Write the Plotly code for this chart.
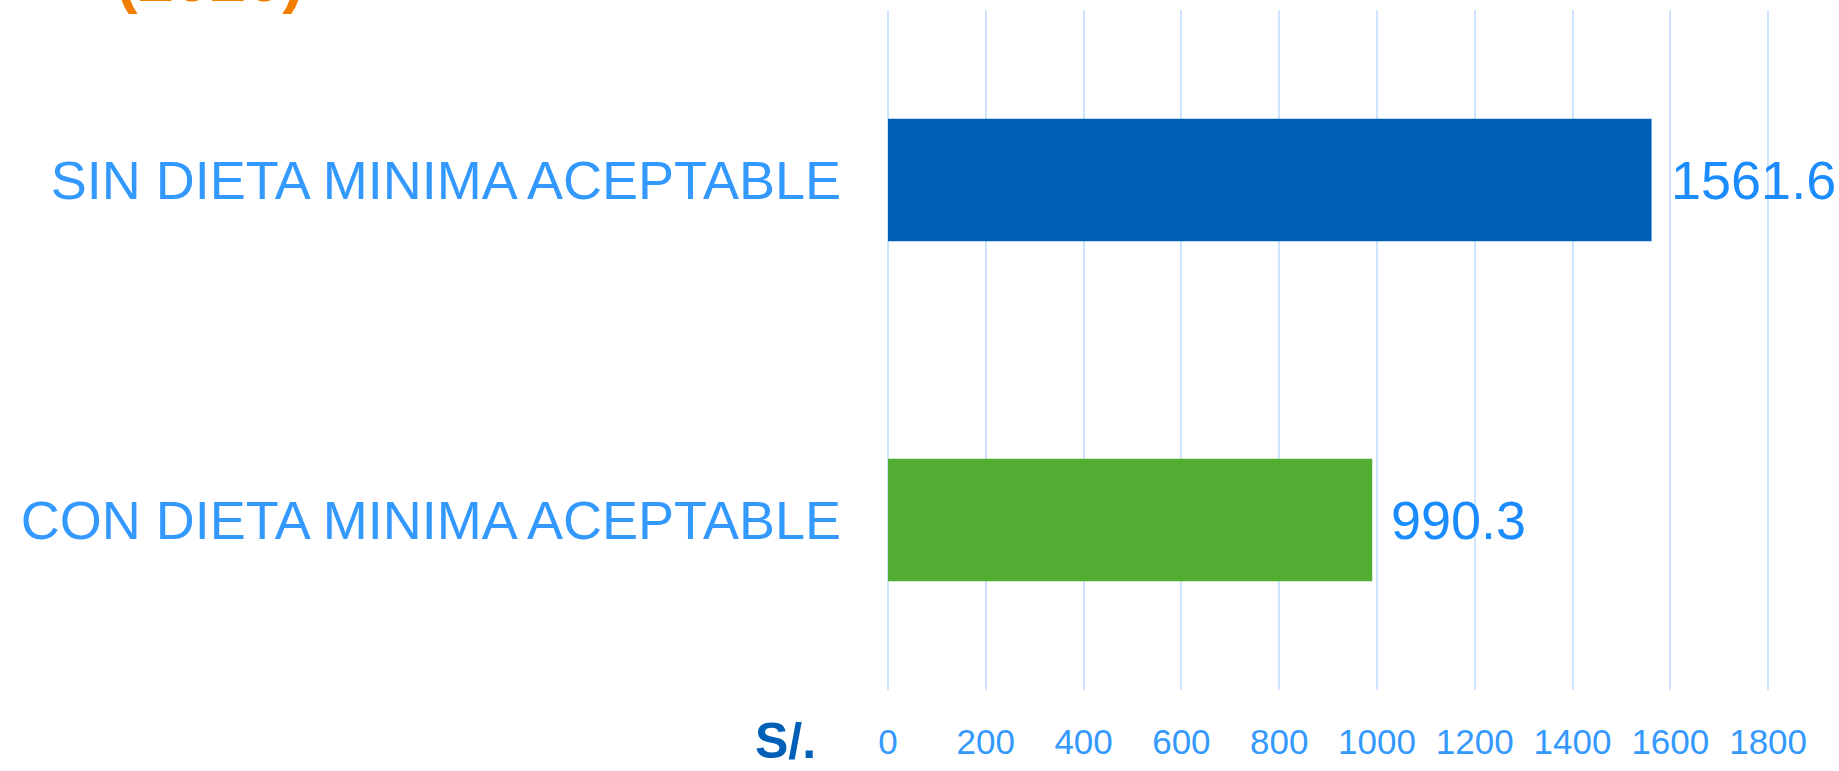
import plotly.graph_objects as go

categories = ["CON DIETA MINIMA ACEPTABLE", "SIN DIETA MINIMA ACEPTABLE"]
values = [990.3, 1561.6]
bar_colors = ["#52AE32", "#0060B8"]
tick_vals = [0, 200, 400, 600, 800, 1000, 1200, 1400, 1600, 1800]
title_text = "(2020)"
unit_text = "S/."

W, H = 1839, 771
X_MAX = 1810
PX_PER_UNIT = 880 / 1800
L, T, B = 888, 10, 75
PW = X_MAX * PX_PER_UNIT
R = W - L - PW
PH = H - T - B


def px_x(px):
    return (px - L) / PW


def px_y(py):
    return (H - B - py) / PH


FONT = "Liberation Sans, Arial, sans-serif"

fig = go.Figure()
fig.add_trace(go.Bar(
    x=values, y=categories, orientation="h",
    marker=dict(color=bar_colors, line=dict(width=0)),
    width=0.36, hoverinfo="skip",
))

for v, c in zip(values, categories):
    fig.add_annotation(
        x=v, y=c, xref="x", yref="y", text=f"{v:.1f}", showarrow=False,
        xanchor="left", yanchor="middle", xshift=17,
        font=dict(family=FONT, size=54, color="#1A8CFF"),
    )

fig.add_annotation(
    x=px_x(786), y=px_y(747), xref="paper", yref="paper", text=f"<b>{unit_text}</b>",
    showarrow=False, xanchor="center", yanchor="middle",
    font=dict(family=FONT, size=50, color="#0060B8"),
)

fig.add_annotation(
    x=px_x(210), y=px_y(17), xref="paper", yref="paper", text=f"<b>{title_text}</b>",
    showarrow=False, xanchor="center", yanchor="bottom",
    font=dict(family=FONT, size=65, color="#F07D00"),
)

fig.update_layout(
    width=W, height=H,
    margin=dict(l=L, r=R, t=T, b=B),
    plot_bgcolor="white", paper_bgcolor="white",
    showlegend=False,
    font=dict(family=FONT),
)
fig.update_xaxes(
    range=[0, X_MAX], tickvals=tick_vals, ticktext=[str(t) for t in tick_vals],
    showgrid=True, gridcolor="#CFE5FF", gridwidth=2,
    zeroline=True, zerolinecolor="#CFE5FF", zerolinewidth=2,
    showline=False, ticks="",
    tickfont=dict(family=FONT, size=35, color="#3399FF"),
    ticklabelstandoff=28,
)
fig.update_yaxes(
    categoryorder="array", categoryarray=categories,
    range=[-0.5, 1.5], showgrid=False, zeroline=False, showline=False, ticks="",
    tickfont=dict(family=FONT, size=54, color="#3399FF"),
    ticklabelstandoff=46,
)

fig.write_html(
    "out.html",
    config={"displayModeBar": False},
    post_script="document.body.style.margin='0';document.body.style.padding='0';"
                "document.body.style.overflow='hidden';",
)
